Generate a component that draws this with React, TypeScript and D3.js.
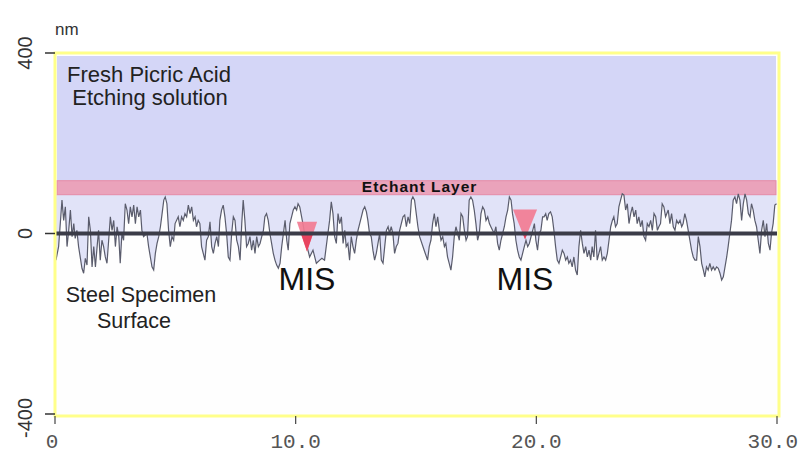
import React from 'react';
import * as d3 from 'd3';

// surface profile, x in µm, height in nm
const profile: [number, number][] = [
  [0.04,-59],[0.15,-29],[0.29,74],[0.36,29],[0.43,59],[0.50,-29],[0.57,7],[0.64,52],[0.71,-7],[0.78,22],[0.84,-11],[0.91,7],[0.98,-29],[1.12,-77],[1.19,-88],[1.26,-55],[1.33,-70],[1.40,37],[1.47,7],[1.54,-74],[1.61,-29],[1.68,-74],[1.75,-29],[1.81,7],[1.88,-59],[1.95,-15],[2.02,-29],[2.09,-52],[2.16,-66],[2.23,-15],[2.30,37],[2.37,7],[2.44,29],[2.51,-29],[2.58,15],[2.65,-7],[2.71,-66],[2.78,0],[2.85,-15],[2.92,66],[2.99,52],[3.06,22],[3.13,59],[3.20,37],[3.27,63],[3.34,22],[3.41,59],[3.48,37],[3.55,52],[3.61,7],[3.68,-7],[3.82,0],[3.89,-29],[4.03,-74],[4.10,-81],[4.17,-44],[4.24,-22],[4.31,-7],[4.38,15],[4.45,44],[4.52,74],[4.58,81],[4.65,66],[4.72,7],[4.79,-29],[4.86,-7],[4.93,-15],
  [4.99,22],[5.12,37],[5.19,15],[5.26,37],[5.33,29],[5.40,44],[5.47,37],[5.54,63],[5.61,44],[5.68,59],[5.75,29],[5.82,37],[5.88,15],[5.95,29],[6.02,22],[6.09,-29],[6.16,-44],[6.23,-59],[6.30,-15],[6.37,-7],[6.44,26],[6.51,-29],[6.58,-44],[6.65,-22],[6.72,-7],[6.79,-29],[6.85,29],[6.92,52],[6.99,63],[7.06,37],[7.13,0],[7.20,-52],[7.27,-59],[7.34,0],[7.41,37],[7.48,29],[7.55,-15],[7.62,-29],[7.69,-59],[7.76,22],[7.82,74],[7.89,29],[7.96,-29],[8.03,-22],[8.10,-7],[8.17,-37],[8.24,-15],[8.31,-44],[8.38,-7],[8.45,-29],[8.52,-22],[8.59,-7],[8.66,7],[8.72,37],[8.79,44],[8.86,29],[8.93,0],[9.00,-22],[9.07,-44],[9.14,-59],[9.21,-70],[9.28,-77],[9.35,-66],[9.42,-29],[9.49,0],[9.56,29],[9.63,-15],[9.69,-37],[9.76,22],[9.83,37],[9.90,52],[9.97,59],[10.04,52],
  [10.10,66],[10.17,59],[10.30,22],[10.44,-22],[10.58,-52],[10.72,-37],[10.86,-66],[11.00,-59],[11.09,-55],[11.20,-59],[11.27,-29],[11.34,0],[11.41,29],[11.48,70],[11.55,44],[11.62,-7],[11.69,-22],[11.76,44],[11.83,22],[11.90,37],[11.97,-22],[12.04,7],[12.10,-29],[12.17,-22],[12.24,-59],[12.31,-7],[12.38,-29],[12.45,-44],[12.52,-15],[12.59,7],[12.66,22],[12.73,37],[12.80,52],[12.87,59],[12.94,48],[13.00,29],[13.07,0],[13.14,-7],[13.21,-37],[13.28,-59],[13.35,-44],[13.42,-22],[13.49,0],[13.56,-59],[13.63,-66],[13.70,-29],[13.77,7],[13.84,15],[13.90,0],[13.97,15],[14.04,0],[14.11,-44],[14.18,-29],[14.25,-22],[14.32,7],[14.39,22],[14.46,37],[14.53,41],[14.60,15],[14.67,37],[14.74,22],[14.81,74],[14.87,81],[14.94,74],[15.01,44],[15.08,15],[15.15,-7],
  [15.34,-37],[15.48,-59],[15.55,-29],[15.62,-15],[15.69,22],[15.76,44],[15.83,15],[15.90,37],[15.97,7],[16.04,-15],[16.11,-7],[16.18,-29],[16.24,-22],[16.31,-52],[16.38,-66],[16.45,-81],[16.52,-52],[16.59,-7],[16.66,15],[16.73,0],[16.80,-15],[16.87,44],[16.94,37],[17.01,7],[17.08,-15],[17.14,-7],[17.21,74],[17.28,81],[17.35,74],[17.42,52],[17.49,22],[17.56,-15],[17.63,0],[17.70,44],[17.77,59],[17.84,52],[17.91,29],[17.98,37],[18.05,22],[18.11,15],[18.18,7],[18.25,0],[18.32,15],[18.39,-22],[18.46,-37],[18.53,-15],[18.60,0],[18.67,15],[18.74,37],[18.81,52],[18.88,81],[18.95,74],[19.01,44],[19.08,22],[19.15,-15],[19.22,-37],[19.29,-52],[19.36,-59],[19.43,-44],[19.50,-29],[19.57,-15],[19.64,-29],[19.71,-22],[19.78,-7],[19.85,7],[19.92,22],[19.98,-15],[20.05,-37],[20.12,0],[20.19,7],[20.26,37],
  [20.32,37],[20.39,44],[20.45,29],[20.52,44],[20.59,48],[20.66,37],[20.73,7],[20.80,-29],[20.87,-59],[20.94,-66],[21.01,-52],[21.08,-37],[21.15,-44],[21.22,-59],[21.29,-52],[21.35,-66],[21.42,-59],[21.49,-74],[21.56,-52],[21.63,-81],[21.70,-92],[21.77,-29],[21.84,7],[21.91,-22],[21.98,-44],[22.05,-29],[22.12,-52],[22.19,-37],[22.26,-59],[22.32,-29],[22.39,-52],[22.46,7],[22.53,-59],[22.60,-44],[22.67,-29],[22.74,-59],[22.81,-52],[22.88,-59],[22.95,-44],[23.02,-15],[23.09,15],[23.16,29],[23.22,37],[23.29,15],[23.36,22],[23.43,59],[23.50,74],[23.57,88],[23.64,85],[23.71,52],[23.78,66],[23.85,22],[23.92,44],[23.99,59],[24.06,37],[24.13,52],[24.19,22],[24.26,37],[24.33,15],[24.40,29],[24.47,-7],[24.54,-15],[24.61,22],[24.68,15],[24.75,29],[24.82,7],[24.89,44],[24.96,37],[25.03,7],[25.09,15],[25.16,22],[25.23,66],[25.30,59],[25.37,37],
  [25.48,52],[25.55,22],[25.62,44],[25.69,15],[25.76,7],[25.83,29],[25.90,22],[25.97,29],[26.04,15],[26.10,22],[26.17,44],[26.24,29],[26.31,7],[26.38,-15],[26.45,-37],[26.52,-52],[26.59,-59],[26.66,-59],[26.73,-7],[26.80,-29],[26.87,-66],[26.94,-81],[27.00,-96],[27.07,-74],[27.14,-81],[27.21,-66],[27.28,-81],[27.35,-74],[27.42,-81],[27.49,-74],[27.56,-77],[27.63,-88],[27.70,-103],[27.77,-96],[27.84,-74],[27.91,-52],[27.97,-29],[28.04,0],[28.11,29],[28.18,74],[28.25,81],[28.32,66],[28.39,88],[28.46,74],[28.53,29],[28.60,66],[28.67,88],[28.74,74],[28.81,44],[28.88,37],[28.94,66],[29.01,52],[29.08,29],[29.15,15],[29.22,-15],[29.29,-44],[29.36,7],[29.43,29],[29.50,-7],[29.57,22],[29.64,-22],[29.71,-37],[29.77,0],[29.84,22],[29.91,63],[29.98,66],
];

const yTicks = [400, 0, -400];
const xTicks = [0, 10, 20, 30];
const xTickLabels = ['0', '10.0', '20.0', '30.0'];

// etchant layer band (nm)
const bandBottom = 86;
const bandTop = 117;

// MIS markers: centre x, half width (µm), top and tip (nm)
const misX = [10.47, 19.53];
const misHalf = [0.42, 0.5];
const misTop = [26, 53];
const misTip = [-40, -13];

const sans = 'Liberation Sans, Arial, sans-serif';

export default function App() {
  const W = 799, H = 454;
  const x = d3.scaleLinear().domain([0, 30]).range([55, 777]);
  const y = d3.scaleLinear().domain([-400, 400]).range([414, 53]);

  const line = d3.line<[number, number]>().x(d => x(d[0])).y(d => y(d[1]));
  const area = d3.area<[number, number]>().x(d => x(d[0])).y0(y(bandBottom)).y1(d => y(d[1]));

  const tri = (i: number) =>
    `M${x(misX[i] - misHalf[i])},${y(misTop[i])}L${x(misX[i] + misHalf[i])},${y(misTop[i])}L${x(misX[i])},${y(misTip[i])}Z`;

  return (
    <div style={{ position: 'fixed', left: 0, top: 0 }}>
      <svg width={W} height={H} style={{ display: 'block', background: '#fff' }}>
        <defs>
          <clipPath id="below">
            <rect x={0} y={y(0)} width={W} height={H} />
          </clipPath>
        </defs>

        {/* plot background */}
        <rect x={x(0)} y={y(400)} width={x(30) - x(0) + 2} height={y(-400) - y(400) + 2} fill="#fefefe" />
        {/* etching solution */}
        <rect x={x(0) + 2} y={y(400) + 3} width={x(30) - x(0) - 3} height={y(bandTop) - y(400) - 3} fill="#d4d6f7" />
        {/* solution near surface */}
        <path d={area(profile) || ''} fill="#e1e3f8" />
        {/* etchant layer */}
        <rect x={x(0) + 2} y={y(bandTop)} width={x(30) - x(0) - 3} height={y(bandBottom) - y(bandTop)}
          fill="#eaa3bb" stroke="#e48aa6" strokeWidth={1} />
        <text x={x(15.15)} y={y(bandBottom) - 3} textAnchor="middle" fontFamily={sans} fontWeight="bold"
          fontSize={15.5} letterSpacing={1} fill="#111">Etchant Layer</text>

        {/* profile */}
        <path d={line(profile) || ''} fill="none" stroke="#5a5c6c" strokeWidth={1.2} />

        {/* MIS markers */}
        {misX.map((_, i) => (
          <g key={i}>
            <path d={tri(i)} fill="#f27c93" fillOpacity={0.92} />
            <path d={tri(i)} fill="#e8445f" clipPath="url(#below)" />
          </g>
        ))}

        {/* zero line */}
        <line x1={x(0)} x2={x(30)} y1={y(0)} y2={y(0)} stroke="#3b3c48" strokeWidth={4} />

        {/* frame */}
        <rect x={x(0)} y={y(400)} width={x(30) - x(0) + 2} height={y(-400) - y(400) + 2}
          fill="none" stroke="#ffff8a" strokeWidth={3} />

        {/* y axis */}
        {yTicks.map(t => (
          <g key={t}>
            <line x1={45} x2={x(0)} y1={y(t)} y2={y(t)} stroke="#333" strokeWidth={1.5} />
            <text transform={`translate(32,${y(t) + (t < 0 ? 4 : 0)}) rotate(-90)`} textAnchor="middle"
              fontFamily={sans} fontSize={20} fill="#333">{t}</text>
          </g>
        ))}
        <text x={55} y={35} fontFamily={sans} fontSize={17} fill="#333">nm</text>

        {/* x axis */}
        {xTicks.map((t, i) => (
          <g key={t}>
            <line x1={x(t)} x2={x(t)} y1={y(-400) + 2} y2={y(-400) + 10} stroke="#444" strokeWidth={1.2} />
            <text x={i === xTicks.length - 1 ? W - 1 : x(t) - (i === 0 ? 3 : 0)} y={448}
              textAnchor={i === xTicks.length - 1 ? 'end' : 'middle'} fontFamily="Liberation Mono, monospace"
              fontSize={21} fill="#555">{xTickLabels[i]}</text>
          </g>
        ))}

        {/* annotations */}
        <text textAnchor="middle" fontFamily={sans} fontSize={22} fill="#222">
          <tspan x={149} y={82}>Fresh Picric Acid</tspan>
          <tspan x={150} y={105}>Etching solution</tspan>
        </text>
        <text textAnchor="middle" fontFamily={sans} fontSize={21.5} fill="#222">
          <tspan x={141} y={302}>Steel Specimen</tspan>
          <tspan x={134} y={328}>Surface</tspan>
        </text>
        <text x={x(misX[0])} y={290} textAnchor="middle" fontFamily={sans} fontSize={32} fill="#111">MIS</text>
        <text x={x(misX[1])} y={290} textAnchor="middle" fontFamily={sans} fontSize={32} fill="#111">MIS</text>
      </svg>
    </div>
  );
}
